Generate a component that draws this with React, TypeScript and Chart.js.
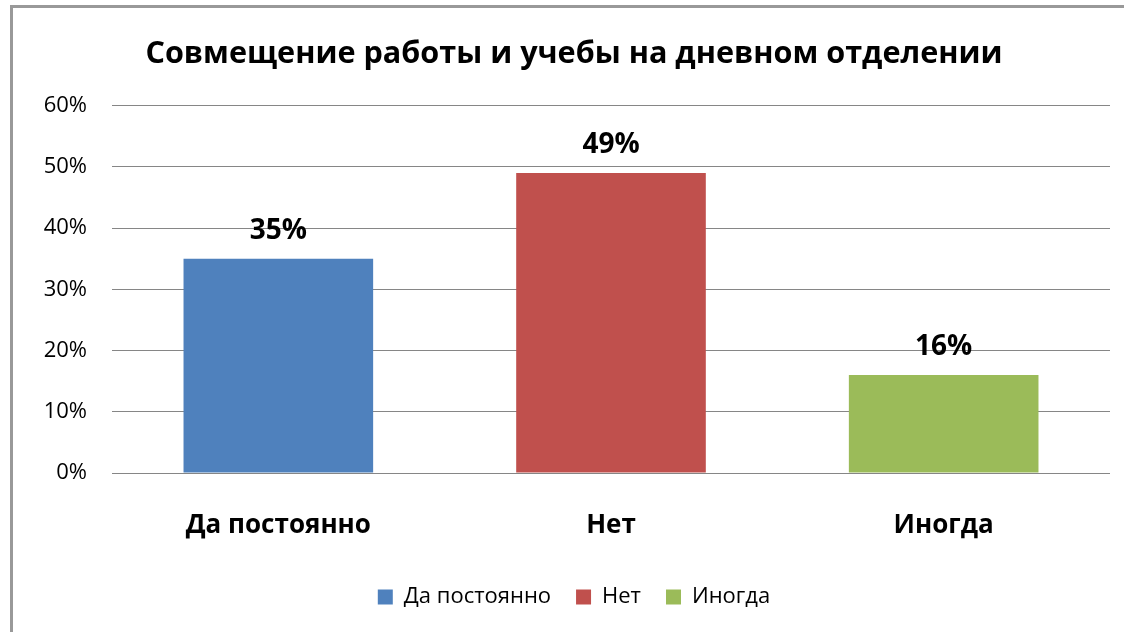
import { useEffect, useRef } from "react";
import { Chart, registerables } from "chart.js";

Chart.register(...registerables);

const titleText = "Совмещение работы и учебы на дневном отделении";
const categories = ["Да постоянно", "Нет", "Иногда"];
const values = [35, 49, 16];
const colors = ["#4F81BD", "#C0504D", "#9BBB59"];
const yTicks = [0, 10, 20, 30, 40, 50, 60];

const FONT = "'Open Sans', 'DejaVu Sans', sans-serif";

export default function App() {
  const ref = useRef<HTMLCanvasElement | null>(null);

  useEffect(() => {
    if (!ref.current) return;
    const valueLabels = {
      id: "valueLabels",
      afterDatasetsDraw(chart: any) {
        const ctx = chart.ctx;
        const meta = chart.getDatasetMeta(0);
        ctx.save();
        ctx.font = `bold 28px ${FONT}`;
        ctx.fillStyle = "#000";
        ctx.textAlign = "center";
        ctx.textBaseline = "alphabetic";
        meta.data.forEach((bar: any, i: number) => {
          ctx.fillText(values[i] + "%", bar.x, bar.y - 20);
        });
        ctx.restore();
      },
    };

    const chart = new Chart(ref.current, {
      type: "bar",
      data: {
        labels: categories,
        datasets: [
          {
            data: values,
            backgroundColor: colors,
            borderWidth: 0,
            categoryPercentage: 1,
            barPercentage: 0.57,
          },
        ],
      },
      options: {
        animation: false,
        responsive: false,
        layout: { padding: { left: 38, right: 14, top: 0, bottom: 14 } },
        plugins: {
          title: {
            display: true,
            text: titleText,
            color: "#000",
            font: { family: FONT, size: 30.6, weight: "bold" },
            padding: { top: 36, bottom: 33 },
          },
          legend: {
            position: "bottom",
            labels: {
              boxWidth: 15,
              boxHeight: 15,
              padding: 25,
              color: "#000",
              font: { family: FONT, size: 22 },
              generateLabels: () =>
                categories.map((c, i) => ({
                  text: c,
                  fillStyle: colors[i],
                  strokeStyle: colors[i],
                  lineWidth: 0,
                  hidden: false,
                  index: i,
                  datasetIndex: 0,
                  fontColor: "#000",
                })),
            },
          },
          tooltip: { enabled: false },
        },
        scales: {
          x: {
            grid: { display: false },
            border: { display: false },
            ticks: {
              color: "#000",
              font: { family: FONT, size: 26, weight: "bold" },
              padding: 29,
            },
            afterFit(s: any) {
              s.height = 88;
            },
          },
          y: {
            min: 0,
            max: 60,
            afterBuildTicks(s: any) {
              s.ticks = yTicks.map((v) => ({ value: v }));
            },
            ticks: {
              color: "#000",
              font: { family: FONT, size: 22 },
              padding: 25,
              callback: (v: any) => v + "%",
            },
            grid: { color: "#868686", drawTicks: false },
            border: { display: false },
            afterFit(s: any) {
              s.width = 74;
            },
          },
        },
      },
      plugins: [valueLabels],
    } as any);

    return () => chart.destroy();
  }, []);

  return (
    <div style={{ position: "fixed", left: 0, top: 0, width: 1124, height: 632, background: "#fff", overflow: "hidden" }}>
      <div
        style={{
          position: "absolute",
          left: 10,
          top: 5,
          width: 1114,
          height: 627,
          borderLeft: "3px solid #999",
          borderTop: "3px solid #999",
          boxSizing: "border-box",
        }}
      />
      <canvas ref={ref} width={1124} height={632} style={{ position: "absolute", left: 0, top: 0 }} />
    </div>
  );
}
